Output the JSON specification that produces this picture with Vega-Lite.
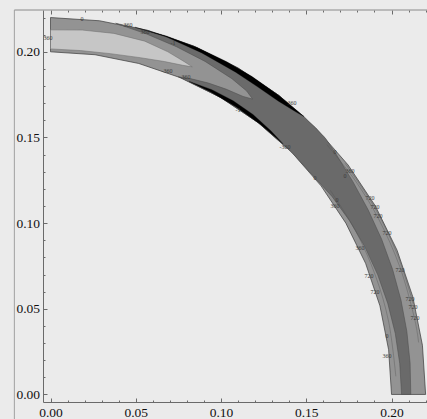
{
  "$schema": "https://vega.github.io/schema/vega-lite/v6.json",
  "width": 384,
  "height": 392,
  "autosize": {"type": "none"},
  "padding": {"left": 43, "top": 10, "right": 0, "bottom": 17},
  "background": "#ebebeb",
  "config": {
    "view": {"stroke": null, "fill": "#ebebeb"},
    "axis": {"grid": false, "title": null, "labelFont": "Liberation Serif", "labelFontSize": 13.5, "labelColor": "#111111", "domainColor": "#6a6a6a", "tickColor": "#6a6a6a", "labelFlush": false, "labelOverlap": false}
  },
  "datasets": {
    "poly": [
      {"p":"base","i":0,"x":0.22,"y":0},
      {"p":"base","i":1,"x":0.21812,"y":0.02872},
      {"p":"base","i":2,"x":0.21250,"y":0.05694},
      {"p":"base","i":3,"x":0.20325,"y":0.08419},
      {"p":"base","i":4,"x":0.19053,"y":0.11},
      {"p":"base","i":5,"x":0.17454,"y":0.13393},
      {"p":"base","i":6,"x":0.15556,"y":0.15556},
      {"p":"base","i":7,"x":0.13393,"y":0.17454},
      {"p":"base","i":8,"x":0.11,"y":0.19053},
      {"p":"base","i":9,"x":0.08419,"y":0.20325},
      {"p":"base","i":10,"x":0.05694,"y":0.21250},
      {"p":"base","i":11,"x":0.02872,"y":0.21812},
      {"p":"base","i":12,"x":0,"y":0.22},
      {"p":"base","i":13,"x":0,"y":0.2},
      {"p":"base","i":14,"x":0.02611,"y":0.19829},
      {"p":"base","i":15,"x":0.05176,"y":0.19319},
      {"p":"base","i":16,"x":0.07654,"y":0.18478},
      {"p":"base","i":17,"x":0.1,"y":0.17321},
      {"p":"base","i":18,"x":0.12175,"y":0.15867},
      {"p":"base","i":19,"x":0.14142,"y":0.14142},
      {"p":"base","i":20,"x":0.15867,"y":0.12175},
      {"p":"base","i":21,"x":0.17321,"y":0.1},
      {"p":"base","i":22,"x":0.18478,"y":0.07654},
      {"p":"base","i":23,"x":0.19319,"y":0.05176},
      {"p":"base","i":24,"x":0.19829,"y":0.02611},
      {"p":"base","i":25,"x":0.2,"y":0},

      {"p":"dark","i":0,"x":0.2113,"y":0},
      {"p":"dark","i":1,"x":0.21089,"y":0.01845},
      {"p":"dark","i":2,"x":0.20898,"y":0.03685},
      {"p":"dark","i":3,"x":0.20555,"y":0.05508},
      {"p":"dark","i":4,"x":0.20062,"y":0.07302},
      {"p":"dark","i":5,"x":0.19422,"y":0.09057},
      {"p":"dark","i":6,"x":0.18637,"y":0.1076},
      {"p":"dark","i":7,"x":0.17735,"y":0.12418},
      {"p":"dark","i":8,"x":0.16738,"y":0.14045},
      {"p":"dark","i":9,"x":0.16090,"y":0.15004},
      {"p":"dark","i":10,"x":0.14863,"y":0.16220},
      {"p":"dark","i":11,"x":0.13393,"y":0.17454},
      {"p":"dark","i":12,"x":0.11,"y":0.19053},
      {"p":"dark","i":13,"x":0.08419,"y":0.20325},
      {"p":"dark","i":14,"x":0.05694,"y":0.21250},
      {"p":"dark","i":15,"x":0.03820,"y":0.21666},
      {"p":"dark","i":16,"x":0.05637,"y":0.21038},
      {"p":"dark","i":17,"x":0.07388,"y":0.20297},
      {"p":"dark","i":18,"x":0.09065,"y":0.19440},
      {"p":"dark","i":19,"x":0.10640,"y":0.18429},
      {"p":"dark","i":20,"x":0.11503,"y":0.17713},
      {"p":"dark","i":21,"x":0.11849,"y":0.17241},
      {"p":"dark","i":22,"x":0.11296,"y":0.17394},
      {"p":"dark","i":23,"x":0.10290,"y":0.17823},
      {"p":"dark","i":24,"x":0.09261,"y":0.18177},
      {"p":"dark","i":25,"x":0.08208,"y":0.18435},
      {"p":"dark","i":26,"x":0.07492,"y":0.18544},
      {"p":"dark","i":27,"x":0.1,"y":0.17321},
      {"p":"dark","i":28,"x":0.12175,"y":0.15867},
      {"p":"dark","i":29,"x":0.14142,"y":0.14142},
      {"p":"dark","i":30,"x":0.15321,"y":0.12856},
      {"p":"dark","i":31,"x":0.16506,"y":0.11558},
      {"p":"dark","i":32,"x":0.17546,"y":0.1013},
      {"p":"dark","i":33,"x":0.18443,"y":0.08600},
      {"p":"dark","i":34,"x":0.19189,"y":0.06984},
      {"p":"dark","i":35,"x":0.19782,"y":0.05301},
      {"p":"dark","i":36,"x":0.20218,"y":0.03565},
      {"p":"dark","i":37,"x":0.20482,"y":0.01792},
      {"p":"dark","i":38,"x":0.2059,"y":0},

      {"p":"tongue","i":0,"x":0,"y":0.2017},
      {"p":"tongue","i":1,"x":0.01756,"y":0.20073},
      {"p":"tongue","i":2,"x":0.03508,"y":0.19893},
      {"p":"tongue","i":3,"x":0.05267,"y":0.19657},
      {"p":"tongue","i":4,"x":0.06690,"y":0.19430},
      {"p":"tongue","i":5,"x":0.07762,"y":0.19211},
      {"p":"tongue","i":6,"x":0.08314,"y":0.19121},
      {"p":"tongue","i":7,"x":0.07848,"y":0.19424},
      {"p":"tongue","i":8,"x":0.06886,"y":0.19998},
      {"p":"tongue","i":9,"x":0.05526,"y":0.20623},
      {"p":"tongue","i":10,"x":0.03716,"y":0.21075},
      {"p":"tongue","i":11,"x":0.01861,"y":0.21269},
      {"p":"tongue","i":12,"x":0,"y":0.2128},

      {"p":"blackout","i":0,"x":0.14863,"y":0.16220},
      {"p":"blackout","i":1,"x":0.13393,"y":0.17454},
      {"p":"blackout","i":2,"x":0.11821,"y":0.18555},
      {"p":"blackout","i":3,"x":0.10328,"y":0.19425},
      {"p":"blackout","i":4,"x":0.08596,"y":0.20251},
      {"p":"blackout","i":5,"x":0.06798,"y":0.20923},
      {"p":"blackout","i":6,"x":0.04949,"y":0.21436},
      {"p":"blackout","i":7,"x":0.06783,"y":0.20876},
      {"p":"blackout","i":8,"x":0.08875,"y":0.19934},
      {"p":"blackout","i":9,"x":0.10860,"y":0.18810},
      {"p":"blackout","i":10,"x":0.12123,"y":0.17972},
      {"p":"blackout","i":11,"x":0.13372,"y":0.17116},
      {"p":"blackout","i":12,"x":0.14355,"y":0.16513},

      {"p":"blackin","i":0,"x":0.1364,"y":0.14627},
      {"p":"blackin","i":1,"x":0.12313,"y":0.15760},
      {"p":"blackin","i":2,"x":0.10893,"y":0.16773},
      {"p":"blackin","i":3,"x":0.09389,"y":0.17659},
      {"p":"blackin","i":4,"x":0.08135,"y":0.18271},
      {"p":"blackin","i":5,"x":0.09460,"y":0.17792},
      {"p":"blackin","i":6,"x":0.10711,"y":0.17141},
      {"p":"blackin","i":7,"x":0.11874,"y":0.16343},
      {"p":"blackin","i":8,"x":0.12920,"y":0.15397}
    ],
    "contours": [
      {"c":"c1","i":0,"x":0.16200,"y":0.14587},
      {"c":"c1","i":1,"x":0.17857,"y":0.12504},
      {"c":"c1","i":2,"x":0.19248,"y":0.10234},
      {"c":"c1","i":3,"x":0.20485,"y":0.07456},
      {"c":"c1","i":4,"x":0.21324,"y":0.04532},
      {"c":"c1","i":5,"x":0.21588,"y":0.03034},
      {"c":"c2","i":0,"x":0.17273,"y":0.13495},
      {"c":"c2","i":1,"x":0.18983,"y":0.1096},
      {"c":"c2","i":2,"x":0.20324,"y":0.08211},
      {"c":"c2","i":3,"x":0.21269,"y":0.05303},
      {"c":"c3","i":0,"x":0.16407,"y":0.11920},
      {"c":"c3","i":1,"x":0.17906,"y":0.09521},
      {"c":"c3","i":2,"x":0.19057,"y":0.06936},
      {"c":"c3","i":3,"x":0.19837,"y":0.04216},
      {"c":"c3","i":4,"x":0.20252,"y":0.01061}
    ],
    "labels": [
      {"t":"360","x":-0.0015,"y":0.2080},
      {"t":"0","x":0.0185,"y":0.2192},
      {"t":"360","x":0.0455,"y":0.2159},
      {"t":"360","x":0.0554,"y":0.2118},
      {"t":"-1","x":0.0718,"y":0.2051},
      {"t":"-360","x":0.0683,"y":0.1887},
      {"t":"-360","x":0.0789,"y":0.1852},
      {"t":"-1","x":0.1100,"y":0.1660},
      {"t":"360","x":0.1416,"y":0.1701},
      {"t":"-360","x":0.1375,"y":0.1444},
      {"t":"0","x":0.1669,"y":0.1415},
      {"t":"360","x":0.1757,"y":0.1304},
      {"t":"0","x":0.1727,"y":0.1275},
      {"t":"0","x":0.1551,"y":0.1263},
      {"t":"0","x":0.1680,"y":0.1133},
      {"t":"360","x":0.1669,"y":0.1098},
      {"t":"720","x":0.1874,"y":0.1146},
      {"t":"720","x":0.1903,"y":0.1094},
      {"t":"720","x":0.1921,"y":0.1041},
      {"t":"720","x":0.1974,"y":0.0942},
      {"t":"360","x":0.1815,"y":0.0855},
      {"t":"720","x":0.2050,"y":0.0726},
      {"t":"720","x":0.1868,"y":0.0691},
      {"t":"720","x":0.1903,"y":0.0598},
      {"t":"720","x":0.2108,"y":0.0557},
      {"t":"720","x":0.2126,"y":0.0511},
      {"t":"720","x":0.2138,"y":0.0446},
      {"t":"0","x":0.1974,"y":0.0341},
      {"t":"360","x":0.1974,"y":0.0225}
    ]
  },
  "resolve": {"axis": {"x": "independent", "y": "independent"}},
  "layer": [
    {
      "data": {"name": "poly"},
      "transform": [{"filter": "datum.p == 'base'"}],
      "mark": {"type": "line", "interpolate": "linear-closed", "fill": "#939393", "stroke": "#3a3a3a", "strokeWidth": 0.7},
      "encoding": {
        "x": {"field": "x", "type": "quantitative", "scale": {"domain": [-0.0044, 0.2208], "nice": false, "zero": false},
          "axis": {"orient": "bottom", "values": [0,0.01,0.02,0.03,0.04,0.05,0.06,0.07,0.08,0.09,0.1,0.11,0.12,0.13,0.14,0.15,0.16,0.17,0.18,0.19,0.2,0.21,0.22],
            "labelExpr": "abs(datum.value*20-round(datum.value*20))<0.001 ? format(datum.value,'.2f') : ''",
            "tickSize": {"condition": {"test": "abs(datum.value*20-round(datum.value*20))<0.001", "value": -4}, "value": -2},
            "labelPadding": 7}},
        "y": {"field": "y", "type": "quantitative", "scale": {"domain": [-0.0044, 0.2244], "nice": false, "zero": false},
          "axis": {"orient": "left", "values": [0,0.01,0.02,0.03,0.04,0.05,0.06,0.07,0.08,0.09,0.1,0.11,0.12,0.13,0.14,0.15,0.16,0.17,0.18,0.19,0.2,0.21,0.22],
            "labelExpr": "abs(datum.value*20-round(datum.value*20))<0.001 ? format(datum.value,'.2f') : ''",
            "tickSize": {"condition": {"test": "abs(datum.value*20-round(datum.value*20))<0.001", "value": -4}, "value": -2},
            "labelPadding": 7.5}},
        "order": {"field": "i", "type": "quantitative"}
      }
    },
    {
      "data": {"name": "poly"},
      "transform": [{"filter": "datum.p == 'dark'"}],
      "mark": {"type": "line", "interpolate": "linear-closed", "fill": "#6a6a6a", "stroke": "#4a4a4a", "strokeWidth": 0.5},
      "encoding": {
        "x": {"field": "x", "type": "quantitative", "scale": {"domain": [-0.0044, 0.2208], "nice": false, "zero": false}, "axis": null},
        "y": {"field": "y", "type": "quantitative", "scale": {"domain": [-0.0044, 0.2244], "nice": false, "zero": false}, "axis": null},
        "order": {"field": "i", "type": "quantitative"}
      }
    },
    {
      "data": {"name": "poly"},
      "transform": [{"filter": "datum.p == 'tongue'"}],
      "mark": {"type": "line", "interpolate": "linear-closed", "fill": "#c6c6c6", "stroke": "#6a6a6a", "strokeWidth": 0.5},
      "encoding": {
        "x": {"field": "x", "type": "quantitative", "scale": {"domain": [-0.0044, 0.2208], "nice": false, "zero": false},
          "axis": {"orient": "top", "labels": false, "domain": false, "values": [0,0.01,0.02,0.03,0.04,0.05,0.06,0.07,0.08,0.09,0.1,0.11,0.12,0.13,0.14,0.15,0.16,0.17,0.18,0.19,0.2,0.21,0.22],
            "tickSize": {"condition": {"test": "abs(datum.value*20-round(datum.value*20))<0.001", "value": -4}, "value": -2}}},
        "y": {"field": "y", "type": "quantitative", "scale": {"domain": [-0.0044, 0.2244], "nice": false, "zero": false}, "axis": null},
        "order": {"field": "i", "type": "quantitative"}
      }
    },
    {
      "data": {"name": "poly"},
      "transform": [{"filter": "datum.p == 'blackout' || datum.p == 'blackin'"}],
      "mark": {"type": "line", "interpolate": "linear-closed", "fill": "#000000", "stroke": "#000000", "strokeWidth": 0.3},
      "encoding": {
        "x": {"field": "x", "type": "quantitative", "scale": {"domain": [-0.0044, 0.2208], "nice": false, "zero": false}, "axis": null},
        "y": {"field": "y", "type": "quantitative", "scale": {"domain": [-0.0044, 0.2244], "nice": false, "zero": false}, "axis": null},
        "detail": {"field": "p"},
        "order": {"field": "i", "type": "quantitative"}
      }
    },
    {
      "data": {"name": "contours"},
      "mark": {"type": "line", "interpolate": "cardinal", "stroke": "#555555", "strokeWidth": 0.5, "opacity": 0.8},
      "encoding": {
        "x": {"field": "x", "type": "quantitative", "scale": {"domain": [-0.0044, 0.2208], "nice": false, "zero": false}, "axis": null},
        "y": {"field": "y", "type": "quantitative", "scale": {"domain": [-0.0044, 0.2244], "nice": false, "zero": false}, "axis": null},
        "detail": {"field": "c"},
        "order": {"field": "i", "type": "quantitative"}
      }
    },
    {
      "data": {"name": "labels"},
      "mark": {"type": "text", "font": "Liberation Serif", "fontSize": 6, "color": "#3a3a3a"},
      "encoding": {
        "x": {"field": "x", "type": "quantitative", "scale": {"domain": [-0.0044, 0.2208], "nice": false, "zero": false}, "axis": null},
        "y": {"field": "y", "type": "quantitative", "scale": {"domain": [-0.0044, 0.2244], "nice": false, "zero": false}, "axis": null},
        "text": {"field": "t"}
      }
    },
    {
      "data": {"values": [{"a": 1}]},
      "mark": {"type": "rule", "color": "#8a8a8a", "strokeWidth": 1},
      "encoding": {
        "x": {"datum": -0.0212, "type": "quantitative", "scale": {"domain": [-0.0044, 0.2208], "nice": false, "zero": false}, "axis": null},
        "x2": {"datum": 0.2208},
        "y": {"datum": 0.2244, "type": "quantitative", "scale": {"domain": [-0.0044, 0.2244], "nice": false, "zero": false}, "axis": null}
      }
    },
    {
      "data": {"values": [{"a": 1}]},
      "mark": {"type": "rule", "color": "#a0a0a0", "strokeWidth": 1},
      "encoding": {
        "x": {"datum": -0.0212, "type": "quantitative", "scale": {"domain": [-0.0044, 0.2208], "nice": false, "zero": false}, "axis": null},
        "y": {"datum": 0.2244, "type": "quantitative", "scale": {"domain": [-0.0044, 0.2244], "nice": false, "zero": false}, "axis": null},
        "y2": {"datum": -0.0145}
      }
    }
  ]
}
